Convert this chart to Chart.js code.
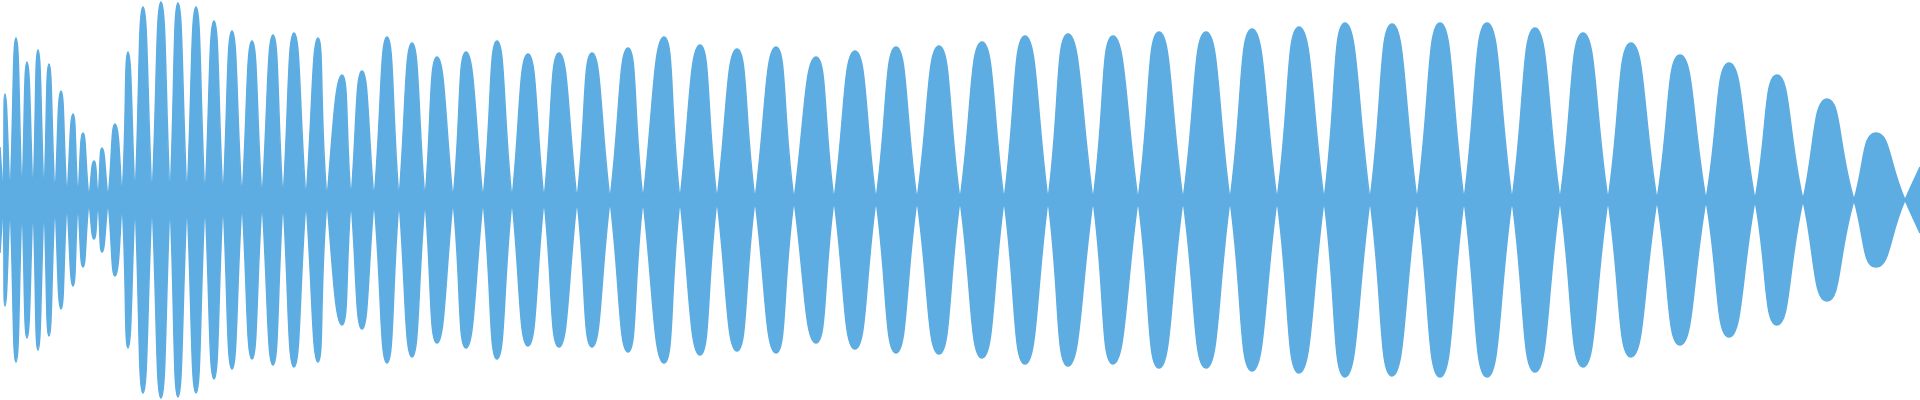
<!DOCTYPE html>
<html><head><meta charset="utf-8">
<script src="https://cdn.jsdelivr.net/npm/chart.js@4"></script>
<style>html,body{margin:0;padding:0;background:#fff}#w{width:1920px;height:400px}</style>
</head><body><div id="w"><canvas id="c"></canvas></div>
<script>
const peakX   = [0,5,16,27,38,49,61,73,83,94,102,115,128,143,161,178,196,214,232,252,273,294,318,342,362,387,412,437,466,497,528,559,592,628,664,700,737,776,816,855,896,939,982,1025,1068,1113,1159,1206,1252,1299,1345,1392,1440,1487,1535,1583,1631,1680,1729,1777,1827,1876];
const peakAmp = [53,106,162,138,150,136,109,86,67,39,52,76,148,193,198,197,193,179,169,159,165,167,162,125,129,163,157,143,148,159,146,147,147,152,163,155,151,153,143,149,153,154,158,164,166,164,168,168,171,173,177,176,177,177,172,167,157,145,137,125,101,67];
const nodeX   = [3,10,22,33,44,55,67,78,89,98,108,122,135,152,170,187,205,223,242,262,283,306,327,351,374,399,425,453,483,512,544,577,610,643,680,717,755,794,834,876,917,960,1004,1048,1093,1138,1183,1230,1277,1324,1370,1417,1464,1512,1560,1608,1657,1706,1755,1803,1854,1905];
const edgeX = 1920, edgeAmp = 33;

const col = 'rgb(93,173,226)';
// signed waveform: alternate lobe sign so tangents at nodes are steep
const wave = [];
peakX.forEach((px,i)=>{
  const s = i%2===0 ? 1 : -1;
  wave.push({x:px, y:s*peakAmp[i]});
  wave.push({x:nodeX[i], y:0});
});
wave.push({x:edgeX, y:(peakX.length%2===0 ? 1 : -1)*edgeAmp});
const mirror = wave.map(p=>({x:p.x, y:-p.y}));
const ds = d=>({data:d, borderColor:col, backgroundColor:col, borderWidth:1.5, pointRadius:0, fill:'origin', tension:0.55});
new Chart(document.getElementById('c'), {
  type:'line',
  data:{datasets:[ds(wave), ds(mirror)]},
  options:{responsive:true, maintainAspectRatio:false, animation:false,
    layout:{padding:0},
    elements:{line:{capBezierPoints:false}},
    plugins:{legend:{display:false}, tooltip:{enabled:false}},
    scales:{
      x:{type:'linear', min:0, max:1920, display:false},
      y:{min:-200, max:200, display:false}
    }}
});
</script></body></html>
